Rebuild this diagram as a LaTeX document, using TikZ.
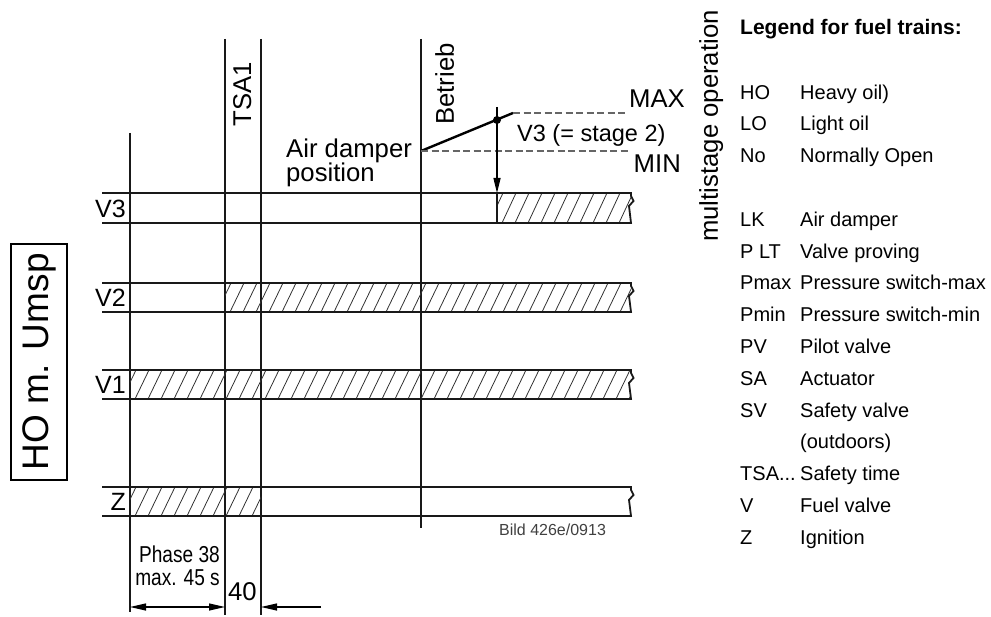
\documentclass[tikz,border=0pt]{standalone}
\usepackage{fontspec}
\setmainfont{Liberation Sans}
\usetikzlibrary{arrows.meta}
\tikzset{
  grd/.style={line width=1.8pt, black!90},
  htch/.style={line width=0.8pt, black!80},
  dsh/.style={dash pattern=on 7pt off 3.5pt, line width=1.2pt, black!60},
  dimn/.style={{Triangle[length=16pt,width=7pt]}-{Triangle[length=16pt,width=7pt]}, line width=1.2pt},
  lbl/.style={inner sep=0pt, font=\fontsize{25.7}{30}\selectfont},
  vlbl/.style={inner sep=0pt, font=\fontsize{25}{29}\selectfont, anchor=base east},
  lgd/.style={inner sep=0pt, font=\fontsize{20}{24}\selectfont, anchor=base west},
}

\begin{document}
\begin{tikzpicture}[x=1pt,y=-1pt]
  \useasboundingbox (0,0) rectangle (991,617);

  % --- time lines ---
  \draw[grd] (130,133) -- (130,612);
  \draw[grd] (225,39) -- (225,615);
  \draw[grd] (261,39) -- (261,615);
  \draw[grd] (421,39) -- (421,528);
  \node[lbl, rotate=90, anchor=north] (tsa) at (233,94) {TSA1};
  \node[lbl, rotate=90, anchor=north] (btr) at (435,84) {Betrieb};

  % --- hatched on-times ---
  \foreach \xa/\xb/\ya/\yb in {497/631/193/223, 225/631/283/312, 130/631/370/399, 130/261/487/516}{
    \begin{scope}
      \clip (\xa,\ya) rectangle (\xb,\yb);
      \foreach \k in {0,...,40}
        \draw[htch] ({\xa+13*\k-8},\yb) -- ++(14,{\ya-\yb});
    \end{scope}
  }

  % --- signal bands ---
  \foreach \nm/\ya/\yb in {V3/193/223, V2/283/312, V1/370/399, Z/487/516}{
    \draw[grd] (102,\ya) -- (631,\ya) -- (631,{\ya+3}) -- (633.5,{\ya+8})
      -- (629,{\ya+13}) -- (631,\yb) -- (102,\yb);
    \node[vlbl] (lbl\nm) at (126,{\yb-5}) {\nm};
  }

  % --- air damper ---
  \draw[line width=2.4pt] (421,151) -- (513,113);
  \draw[dsh] (513,113) -- (628,113);
  \draw[dsh] (421,151) -- (628,151);
  \node[circle, fill, inner sep=0pt, minimum size=8pt] (dot) at (497,120) {};
  \draw[line width=1.3pt, -{Triangle[length=15pt,width=7pt]}] (497,107) -- (497,193);
  \draw[grd] (497,193) -- (497,223);
  \node[lbl, anchor=base west] (adp) at (286,158) {Air damper};
  \node[lbl, anchor=base west] (pos) at (286,182) {position};
  \node[lbl, anchor=base east] (max) at (685,108) {MAX};
  \node[lbl, anchor=base east] (min) at (681,173) {MIN};
  \node[lbl, anchor=base west, font=\fontsize{23.5}{28}\selectfont] (stg) at (517,142) {V3 (= stage 2)};
  \node[lbl, rotate=90, anchor=north] (mso) at (699,126) {multistage operation};

  % --- burner type ---
  \node[draw, line width=1.5pt, rotate=90, minimum width=236pt, minimum height=56pt,
    inner sep=0pt, font=\fontsize{37}{44}\selectfont] (hom) at (39,362) {HO m. Umsp};

  % --- phase times ---
  \coordinate (d0) at (130,607);
  \coordinate (d1) at (225,607);
  \coordinate (d2) at (261,607);
  \coordinate (d3) at (321,607);
  \draw[dimn] (d0) -- (d1);
  \draw[line width=1.2pt, -{Triangle[length=16pt,width=7pt]}] (d3) -- (d2);
  \node[inner sep=0pt, anchor=base east, font=\fontsize{23}{27}\selectfont] (ph1) at (220,562) {\scalebox{0.83}[1]{Phase 38}};
  \node[inner sep=0pt, anchor=base east, font=\fontsize{23}{27}\selectfont] (ph2) at (220,585) {\scalebox{0.83}[1]{max. 45 s}};
  \node[lbl, anchor=base west] (ph3) at (228,600) {40};
  \node[inner sep=0pt, anchor=base west, font=\fontsize{16}{19}\selectfont, black!75] (bld) at (499,535) {Bild 426e/0913};

  % --- legend ---
  \node[inner sep=0pt, anchor=base west, font=\bfseries\fontsize{21}{25}\selectfont] (lgt) at (740,35) {Legend for fuel trains:};
  \foreach \i/\ab/\tx in {0/HO/Heavy oil), 1/LO/Light oil, 2/No/Normally Open,
    4/LK/Air damper, 5/P LT/Valve proving, 6/Pmax/Pressure switch-max,
    7/Pmin/Pressure switch-min, 8/PV/Pilot valve, 9/SA/Actuator, 10/SV/Safety valve,
    11//(outdoors), 12/TSA{.}{.}{.}/Safety time, 13/V/Fuel valve, 14/Z/Ignition}{
    \node[lgd] (ab\i) at (740,{99.2+31.8*\i}) {\ab};
    \node[lgd] (tx\i) at (800,{99.2+31.8*\i}) {\tx};
  }
\end{tikzpicture}
\end{document}
